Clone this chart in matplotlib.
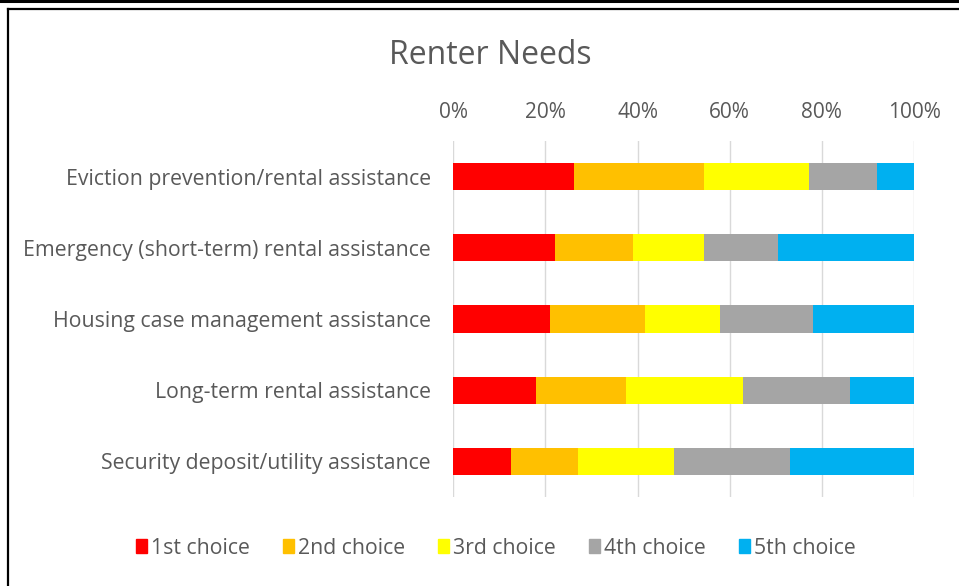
import matplotlib
matplotlib.use("Agg")
import matplotlib.pyplot as plt
from matplotlib.lines import Line2D
from matplotlib.ticker import FuncFormatter
import numpy as np

categories = [
    "Eviction prevention/rental assistance",
    "Emergency (short-term) rental assistance",
    "Housing case management assistance",
    "Long-term rental assistance",
    "Security deposit/utility assistance",
]
series_names = ["1st choice", "2nd choice", "3rd choice", "4th choice", "5th choice"]
first = [26.3, 22.1, 21.0, 17.9, 12.5]
second = [28.2, 17.0, 20.6, 19.5, 14.5]
third = [22.8, 15.3, 16.3, 25.5, 21.0]
fourth = [14.6, 16.1, 20.2, 23.1, 25.1]
fifth = [8.1, 29.5, 21.9, 14.0, 26.9]
colors = ["#ff0000", "#ffc000", "#ffff00", "#a5a5a5", "#00b0f0"]
xticks = [0, 20, 40, 60, 80, 100]

plt.rcParams['font.family'] = ['Open Sans', 'DejaVu Sans']
W, H = 959, 586
fig = plt.figure(figsize=(W / 100, H / 100), dpi=100)
fig.patch.set_facecolor("white")

left, right, top, bottom = 453.3, 914.0, 141.0, 497.0
ax = fig.add_axes([left / W, 1 - bottom / H, (right - left) / W, (bottom - top) / H])

y = np.arange(len(categories))
cum = np.zeros(len(categories))
for name, vals, c in zip(series_names, [first, second, third, fourth, fifth], colors):
    ax.barh(y, vals, left=cum, height=0.38, color=c, label=name, zorder=3)
    cum += np.array(vals)

ax.set_xlim(0, 100)
ax.set_ylim(len(categories) - 0.5, -0.5)
ax.set_yticks(y)
ax.set_yticklabels(categories, fontsize=15.3, color="#595959")
ax.set_xticks(xticks)
ax.xaxis.set_major_formatter(FuncFormatter(lambda v, p: f"{v:.0f}%"))
ax.xaxis.tick_top()
ax.tick_params(axis="x", length=0, labelsize=15, labelcolor="#595959", pad=13)
ax.tick_params(axis="y", length=0, pad=16)
for s in ax.spines.values():
    s.set_visible(False)
ax.grid(axis="x", color="#d9d9d9", linewidth=1, zorder=0)
ax.set_axisbelow(True)

fig.text(490 / W, 1 - 55 / H, "Renter Needs", ha="center", va="center",
         fontsize=23, color="#595959")

handles = [plt.Rectangle((0, 0), 1, 1, color=c) for c in colors]
fig.legend(handles, series_names, loc="center", bbox_to_anchor=(496 / W, 1 - 548 / H),
           ncol=5, frameon=False, fontsize=15.3, handlelength=0.5, handleheight=0.6,
           handletextpad=0.2, columnspacing=1.57, labelcolor="#595959")

# outer frame lines
fig.add_artist(Line2D([0, 1], [1 - 1.2 / H, 1 - 1.2 / H], color="black", lw=2.2))
fig.add_artist(Line2D([7.5 / W, 1], [1 - 9 / H, 1 - 9 / H], color="black", lw=1.6))
fig.add_artist(Line2D([7.5 / W, 7.5 / W], [0, 1 - 9 / H], color="black", lw=1.6))

fig.savefig("out.png", dpi=100, facecolor="white")
